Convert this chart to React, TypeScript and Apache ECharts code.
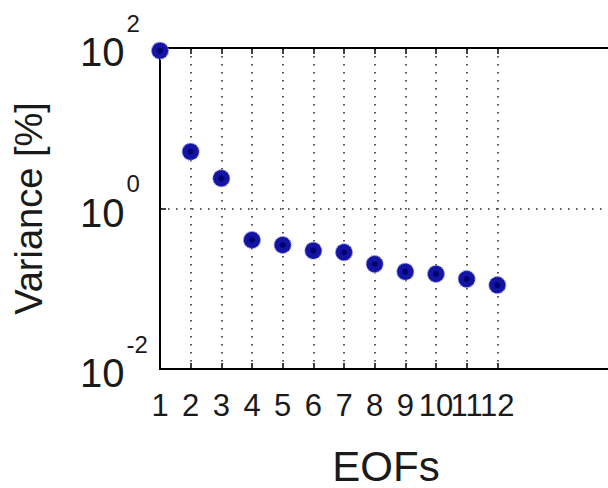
import React, { useEffect, useRef } from "react";
import * as echarts from "echarts";

const eofLabels = ["1", "2", "3", "4", "5", "6", "7", "8", "9", "10", "11", "12"];
const padLabels = ["", "", "", ""];
const varianceValues = [92.5, 5.1, 2.38, 0.405, 0.351, 0.298, 0.284, 0.203, 0.163, 0.153, 0.132, 0.111];

const FONT = "'Liberation Sans', Arial, Helvetica, sans-serif";
const NARROW = "'Liberation Sans Narrow', 'Liberation Sans', Arial, sans-serif";
const GRID_DASH = [1.5, 6.5];

export default function App() {
  const ref = useRef<HTMLDivElement>(null);
  useEffect(() => {
    if (!ref.current) return;
    const chart = echarts.init(ref.current, undefined, { renderer: "svg" });
    const categories = [...eofLabels, ...padLabels];
    const tickRule = (index: number) => index >= 1 && index <= 11;
    chart.setOption({
      animation: false,
      backgroundColor: "#ffffff",
      grid: { left: 160, top: 48, width: 460, height: 321, containLabel: false, outerBoundsMode: "none" },
      xAxis: [
        {
          type: "category",
          data: categories,
          boundaryGap: false,
          position: "bottom",
          name: "EOFs",
          nameLocation: "middle",
          nameGap: 76,
          nameTextStyle: { fontSize: 42, color: "#1a1a1a", fontFamily: FONT, padding: [0, 8, 0, 0] },
          axisLine: { show: true, lineStyle: { color: "#000", width: 2 } },
          axisTick: { show: true, inside: true, length: 6, interval: tickRule, lineStyle: { color: "#000", width: 1.5 } },
          axisLabel: { interval: 0, margin: 21, fontSize: 31, color: "#1a1a1a", fontFamily: NARROW },
          splitLine: { show: true, interval: tickRule, lineStyle: { color: "#222", width: 1.5, type: GRID_DASH } },
        },
        {
          type: "category",
          data: categories,
          boundaryGap: false,
          position: "top",
          axisLine: { show: true, lineStyle: { color: "#000", width: 2 } },
          axisTick: { show: true, inside: true, length: 6, interval: tickRule, lineStyle: { color: "#000", width: 1.5 } },
          axisLabel: { show: false },
          splitLine: { show: false },
        },
      ],
      yAxis: [
        {
          type: "log",
          logBase: 10,
          min: 0.01,
          max: 100,
          interval: 2,
          name: "Variance [%]",
          nameLocation: "middle",
          nameGap: 112,
          nameTextStyle: { fontSize: 38, color: "#1a1a1a", fontFamily: FONT },
          axisLine: { show: true, lineStyle: { color: "#000", width: 2 } },
          axisTick: { show: true, inside: true, length: 6, lineStyle: { color: "#000", width: 1.5 } },
          minorTick: { show: false },
          axisLabel: {
            align: "left",
            margin: 80,
            color: "#1a1a1a",
            fontFamily: NARROW,
            formatter: (v: number) => {
              const e = Math.round(Math.log10(v));
              return `{b|10}{s|${e}}`;
            },
            rich: {
              b: { fontSize: 40, fontFamily: NARROW, color: "#1a1a1a", padding: [8, 0, 0, 0] },
              s: { fontSize: 24, fontFamily: NARROW, color: "#1a1a1a", padding: [0, 0, 50, 2] },
            },
          },
          splitLine: { show: true, lineStyle: { color: "#222", width: 1.5, type: GRID_DASH } },
        },
      ],
      series: [
        {
          type: "scatter",
          xAxisIndex: 0,
          yAxisIndex: 0,
          data: varianceValues,
          symbol: "circle",
          symbolSize: 17,
          itemStyle: { color: "#1414a4", borderColor: "#9a9ae6", borderWidth: 1.2, borderType: "dotted", opacity: 1 },
          z: 5,
        },
        {
          type: "scatter",
          xAxisIndex: 0,
          yAxisIndex: 0,
          data: varianceValues,
          symbol: "circle",
          symbolSize: 6,
          itemStyle: { color: "#00006e", opacity: 1 },
          silent: true,
          z: 6,
        },
      ],
    });
    return () => chart.dispose();
  }, []);
  return (
    <div
      ref={ref}
      style={{ position: "fixed", left: 0, top: 0, width: 608, height: 488, background: "#fff" }}
    />
  );
}
